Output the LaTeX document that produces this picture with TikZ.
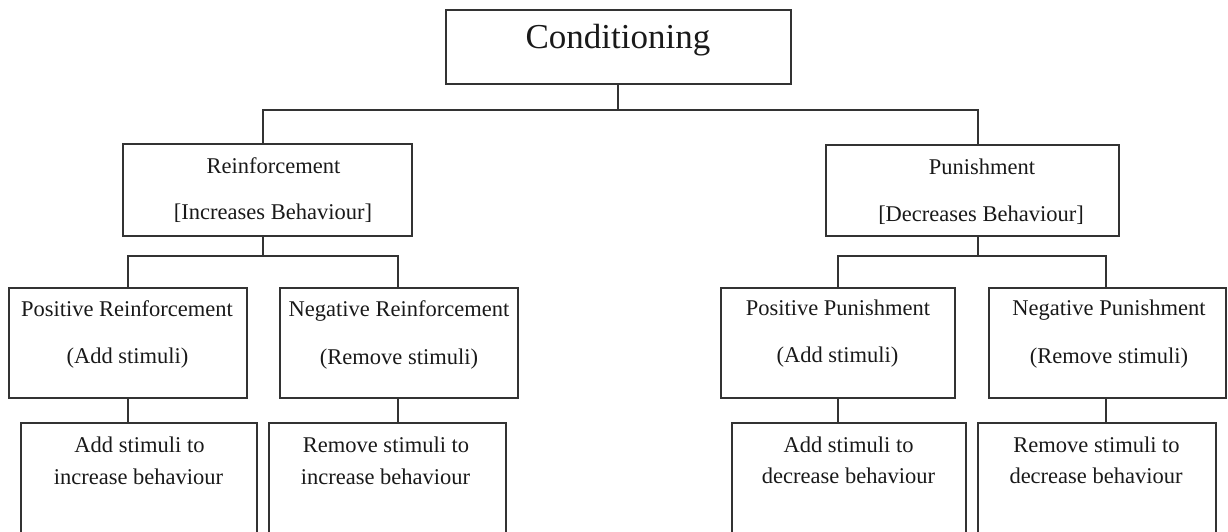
\documentclass[tikz,border=0pt]{standalone}
\usepackage{fontspec}
\setmainfont{Liberation Serif}
\begin{document}
\begin{tikzpicture}[x=1pt,y=-1pt,
  box/.style={draw=black!80, line width=1.2pt, inner sep=0pt, outer sep=0pt, anchor=north west},
  lbl/.style={anchor=base, inner sep=0pt, font=\fontsize{22.5}{27}\selectfont, text=black!90},
  ttl/.style={anchor=base, inner sep=0pt, font=\fontsize{35}{42}\selectfont, text=black!90},
  conn/.style={draw=black!80, line width=1.2pt}]
\useasboundingbox (0,0) rectangle (1228,531);
% boxes
\node[box, minimum width=345pt, minimum height=74pt] (C) at (446,10) {};
\node[box, minimum width=289pt, minimum height=92pt] (R) at (123,144) {};
\node[box, minimum width=293pt, minimum height=91pt] (P) at (826,145) {};
\node[box, minimum width=238pt, minimum height=110pt] (PR) at (9,288) {};
\node[box, minimum width=238pt, minimum height=110pt] (NR) at (280,288) {};
\node[box, minimum width=234pt, minimum height=110pt] (PP) at (721,288) {};
\node[box, minimum width=237pt, minimum height=110pt] (NP) at (989,288) {};
\node[box, minimum width=236pt, minimum height=112pt] (ASR) at (21,423) {};
\node[box, minimum width=237pt, minimum height=112pt] (RSR) at (269,423) {};
\node[box, minimum width=234pt, minimum height=112pt] (ASP) at (732,423) {};
\node[box, minimum width=238pt, minimum height=112pt] (RSP) at (978,423) {};
% junction coordinates
\coordinate (j0) at (618,110);
\coordinate (jR) at (263,110);
\coordinate (jP) at (978,110);
\coordinate (kR) at (263,256);
\coordinate (kPR) at (128,256);
\coordinate (kNR) at (398,256);
\coordinate (kP) at (978,256);
\coordinate (kPP) at (838,256);
\coordinate (kNP) at (1106,256);
% connectors
\draw[conn] (C.south -| j0) -- (j0);
\draw[conn] (R.north -| jR) -- (jR) -- (jP) -- (P.north -| jP);
\draw[conn] (R.south -| kR) -- (kR);
\draw[conn] (PR.north -| kPR) -- (kPR) -- (kNR) -- (NR.north -| kNR);
\draw[conn] (PR.south -| kPR) -- (ASR.north -| kPR);
\draw[conn] (NR.south -| kNR) -- (RSR.north -| kNR);
\draw[conn] (P.south -| kP) -- (kP);
\draw[conn] (PP.north -| kPP) -- (kPP) -- (kNP) -- (NP.north -| kNP);
\draw[conn] (PP.south -| kPP) -- (ASP.north -| kPP);
\draw[conn] (NP.south -| kNP) -- (RSP.north -| kNP);
% texts
\node[ttl] (tC) at (618,48) {Conditioning};
\node[lbl] (tR1) at (273.5,173) {Reinforcement};
\node[lbl] (tR2) at (273,219) {[Increases Behaviour]};
\node[lbl] (tP1) at (982,174) {Punishment};
\node[lbl] (tP2) at (981,221) {[Decreases Behaviour]};
\node[lbl] (tPR1) at (127,316) {Positive Reinforcement};
\node[lbl] (tPR2) at (127.5,363) {(Add stimuli)};
\node[lbl] (tNR1) at (399,316) {Negative Reinforcement};
\node[lbl] (tNR2) at (399,364) {(Remove stimuli)};
\node[lbl] (tPP1) at (838,315) {Positive Punishment};
\node[lbl] (tPP2) at (837.5,362) {(Add stimuli)};
\node[lbl] (tNP1) at (1109,315) {Negative Punishment};
\node[lbl] (tNP2) at (1109,363) {(Remove stimuli)};
\node[lbl] (tA1) at (139.5,452) {Add stimuli to};
\node[lbl] (tA2) at (138.5,484) {increase behaviour};
\node[lbl] (tB1) at (386,452) {Remove stimuli to};
\node[lbl] (tB2) at (385.5,484) {increase behaviour};
\node[lbl] (tC1) at (848.5,452) {Add stimuli to};
\node[lbl] (tC2) at (848.5,483) {decrease behaviour};
\node[lbl] (tD1) at (1096.5,452) {Remove stimuli to};
\node[lbl] (tD2) at (1096,483) {decrease behaviour};
\end{tikzpicture}
\end{document}
